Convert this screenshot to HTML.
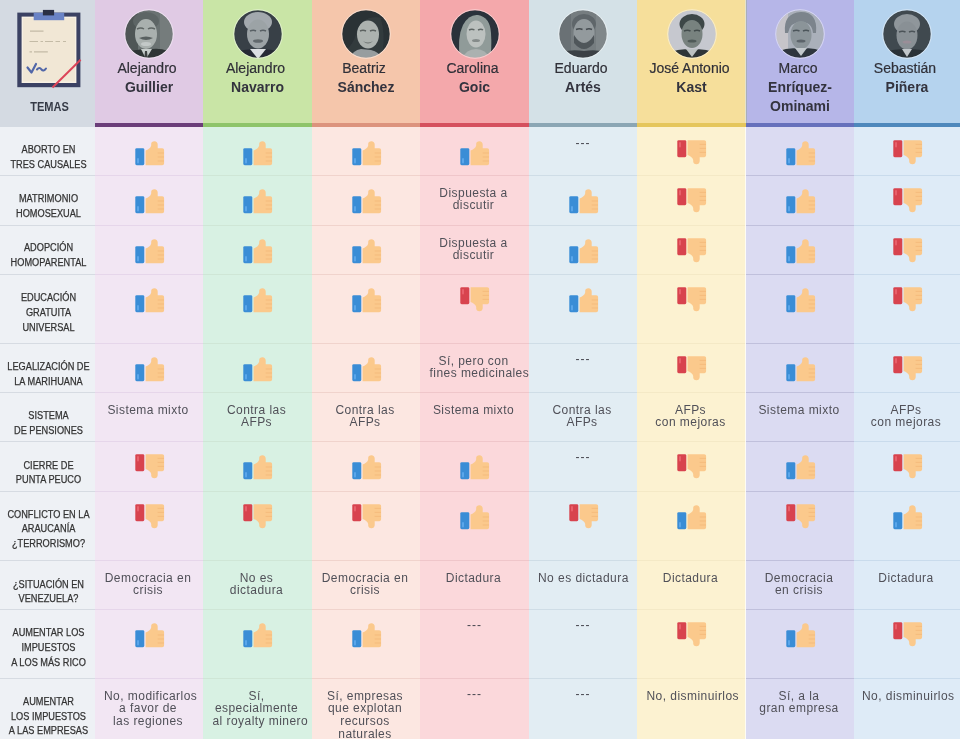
<!DOCTYPE html>
<html lang="es"><head><meta charset="utf-8"><title>Candidatos</title>
<style>
html,body{margin:0;padding:0}
body{width:960px;height:739px;overflow:hidden;position:relative;background:#eef1f5;font-family:"Liberation Sans",Arial,sans-serif;}
.a{position:absolute;display:block}
.t{position:absolute;white-space:nowrap;text-align:center}
.fn{font-size:14px;color:#303038;line-height:19.5px;-webkit-text-stroke:0.2px #303038}
.ln{font-size:14px;font-weight:bold;color:#33333e;line-height:19.5px}
.tp{font-size:10px;color:#333;line-height:14.6px;-webkit-text-stroke:0.25px #333;transform:scaleX(0.92)}
.bx{width:88px;text-align:center;font-size:12px;color:#505058;line-height:12.6px;letter-spacing:0.45px}
.bl{white-space:nowrap}
.dash{font-size:12px;color:#46464e;letter-spacing:1px}
</style></head><body>

<div class="a" style="left:0;top:0;width:95px;height:123px;background:#d4dae2"></div>
<div class="a" style="left:0;top:123px;width:95px;height:4px;background:#d4dae2"></div>
<div class="a" style="left:0;top:127px;width:95px;height:612px;background:#eef1f5"></div>
<div class="a" style="left:95px;top:0;width:108px;height:123px;background:#e0cae4"></div>
<div class="a" style="left:95px;top:123px;width:108px;height:4px;background:#6b3d79"></div>
<div class="a" style="left:95px;top:127px;width:108px;height:612px;background:#f2e6f3"></div>
<div class="a" style="left:203px;top:0;width:109px;height:123px;background:#c9e5a6"></div>
<div class="a" style="left:203px;top:123px;width:109px;height:4px;background:#8ec46a"></div>
<div class="a" style="left:203px;top:127px;width:109px;height:612px;background:#d8f1e3"></div>
<div class="a" style="left:312px;top:0;width:108px;height:123px;background:#f5c6ab"></div>
<div class="a" style="left:312px;top:123px;width:108px;height:4px;background:#dc937d"></div>
<div class="a" style="left:312px;top:127px;width:108px;height:612px;background:#fce7e1"></div>
<div class="a" style="left:420px;top:0;width:109px;height:123px;background:#f4a8ab"></div>
<div class="a" style="left:420px;top:123px;width:109px;height:4px;background:#d5505e"></div>
<div class="a" style="left:420px;top:127px;width:109px;height:612px;background:#fbd8db"></div>
<div class="a" style="left:529px;top:0;width:108px;height:123px;background:#d4e1e7"></div>
<div class="a" style="left:529px;top:123px;width:108px;height:4px;background:#8ba6b4"></div>
<div class="a" style="left:529px;top:127px;width:108px;height:612px;background:#e2edf3"></div>
<div class="a" style="left:637px;top:0;width:109px;height:123px;background:#f6df9b"></div>
<div class="a" style="left:637px;top:123px;width:109px;height:4px;background:#e5c65c"></div>
<div class="a" style="left:637px;top:127px;width:109px;height:612px;background:#fcf2d1"></div>
<div class="a" style="left:746px;top:0;width:108px;height:123px;background:#b6b6e8"></div>
<div class="a" style="left:746px;top:123px;width:108px;height:4px;background:#6670bc"></div>
<div class="a" style="left:746px;top:127px;width:108px;height:612px;background:#dbdbf2"></div>
<div class="a" style="left:854px;top:0;width:106px;height:123px;background:#b5d3ee"></div>
<div class="a" style="left:854px;top:123px;width:106px;height:4px;background:#4e88bc"></div>
<div class="a" style="left:854px;top:127px;width:106px;height:612px;background:#deebf7"></div>
<div class="a" style="left:0;top:175px;width:95px;height:1px;background:#d6dbe2"></div>
<div class="a" style="left:95px;top:175px;width:108px;height:1px;background:#e6d6ea"></div>
<div class="a" style="left:203px;top:175px;width:109px;height:1px;background:#cfe6d6"></div>
<div class="a" style="left:312px;top:175px;width:108px;height:1px;background:#f0d3cc"></div>
<div class="a" style="left:420px;top:175px;width:109px;height:1px;background:#efc6ca"></div>
<div class="a" style="left:529px;top:175px;width:108px;height:1px;background:#cfdde6"></div>
<div class="a" style="left:637px;top:175px;width:109px;height:1px;background:#f4e9c6"></div>
<div class="a" style="left:746px;top:175px;width:108px;height:1px;background:#c0c0dc"></div>
<div class="a" style="left:854px;top:175px;width:106px;height:1px;background:#c9dbec"></div>
<div class="a" style="left:0;top:225px;width:95px;height:1px;background:#d6dbe2"></div>
<div class="a" style="left:95px;top:225px;width:108px;height:1px;background:#e6d6ea"></div>
<div class="a" style="left:203px;top:225px;width:109px;height:1px;background:#cfe6d6"></div>
<div class="a" style="left:312px;top:225px;width:108px;height:1px;background:#f0d3cc"></div>
<div class="a" style="left:420px;top:225px;width:109px;height:1px;background:#efc6ca"></div>
<div class="a" style="left:529px;top:225px;width:108px;height:1px;background:#cfdde6"></div>
<div class="a" style="left:637px;top:225px;width:109px;height:1px;background:#f4e9c6"></div>
<div class="a" style="left:746px;top:225px;width:108px;height:1px;background:#c0c0dc"></div>
<div class="a" style="left:854px;top:225px;width:106px;height:1px;background:#c9dbec"></div>
<div class="a" style="left:0;top:274px;width:95px;height:1px;background:#d6dbe2"></div>
<div class="a" style="left:95px;top:274px;width:108px;height:1px;background:#e6d6ea"></div>
<div class="a" style="left:203px;top:274px;width:109px;height:1px;background:#cfe6d6"></div>
<div class="a" style="left:312px;top:274px;width:108px;height:1px;background:#f0d3cc"></div>
<div class="a" style="left:420px;top:274px;width:109px;height:1px;background:#efc6ca"></div>
<div class="a" style="left:529px;top:274px;width:108px;height:1px;background:#cfdde6"></div>
<div class="a" style="left:637px;top:274px;width:109px;height:1px;background:#f4e9c6"></div>
<div class="a" style="left:746px;top:274px;width:108px;height:1px;background:#c0c0dc"></div>
<div class="a" style="left:854px;top:274px;width:106px;height:1px;background:#c9dbec"></div>
<div class="a" style="left:0;top:343px;width:95px;height:1px;background:#d6dbe2"></div>
<div class="a" style="left:95px;top:343px;width:108px;height:1px;background:#e6d6ea"></div>
<div class="a" style="left:203px;top:343px;width:109px;height:1px;background:#cfe6d6"></div>
<div class="a" style="left:312px;top:343px;width:108px;height:1px;background:#f0d3cc"></div>
<div class="a" style="left:420px;top:343px;width:109px;height:1px;background:#efc6ca"></div>
<div class="a" style="left:529px;top:343px;width:108px;height:1px;background:#cfdde6"></div>
<div class="a" style="left:637px;top:343px;width:109px;height:1px;background:#f4e9c6"></div>
<div class="a" style="left:746px;top:343px;width:108px;height:1px;background:#c0c0dc"></div>
<div class="a" style="left:854px;top:343px;width:106px;height:1px;background:#c9dbec"></div>
<div class="a" style="left:0;top:392px;width:95px;height:1px;background:#d6dbe2"></div>
<div class="a" style="left:95px;top:392px;width:108px;height:1px;background:#e6d6ea"></div>
<div class="a" style="left:203px;top:392px;width:109px;height:1px;background:#cfe6d6"></div>
<div class="a" style="left:312px;top:392px;width:108px;height:1px;background:#f0d3cc"></div>
<div class="a" style="left:420px;top:392px;width:109px;height:1px;background:#efc6ca"></div>
<div class="a" style="left:529px;top:392px;width:108px;height:1px;background:#cfdde6"></div>
<div class="a" style="left:637px;top:392px;width:109px;height:1px;background:#f4e9c6"></div>
<div class="a" style="left:746px;top:392px;width:108px;height:1px;background:#c0c0dc"></div>
<div class="a" style="left:854px;top:392px;width:106px;height:1px;background:#c9dbec"></div>
<div class="a" style="left:0;top:441px;width:95px;height:1px;background:#d6dbe2"></div>
<div class="a" style="left:95px;top:441px;width:108px;height:1px;background:#e6d6ea"></div>
<div class="a" style="left:203px;top:441px;width:109px;height:1px;background:#cfe6d6"></div>
<div class="a" style="left:312px;top:441px;width:108px;height:1px;background:#f0d3cc"></div>
<div class="a" style="left:420px;top:441px;width:109px;height:1px;background:#efc6ca"></div>
<div class="a" style="left:529px;top:441px;width:108px;height:1px;background:#cfdde6"></div>
<div class="a" style="left:637px;top:441px;width:109px;height:1px;background:#f4e9c6"></div>
<div class="a" style="left:746px;top:441px;width:108px;height:1px;background:#c0c0dc"></div>
<div class="a" style="left:854px;top:441px;width:106px;height:1px;background:#c9dbec"></div>
<div class="a" style="left:0;top:491px;width:95px;height:1px;background:#d6dbe2"></div>
<div class="a" style="left:95px;top:491px;width:108px;height:1px;background:#e6d6ea"></div>
<div class="a" style="left:203px;top:491px;width:109px;height:1px;background:#cfe6d6"></div>
<div class="a" style="left:312px;top:491px;width:108px;height:1px;background:#f0d3cc"></div>
<div class="a" style="left:420px;top:491px;width:109px;height:1px;background:#efc6ca"></div>
<div class="a" style="left:529px;top:491px;width:108px;height:1px;background:#cfdde6"></div>
<div class="a" style="left:637px;top:491px;width:109px;height:1px;background:#f4e9c6"></div>
<div class="a" style="left:746px;top:491px;width:108px;height:1px;background:#c0c0dc"></div>
<div class="a" style="left:854px;top:491px;width:106px;height:1px;background:#c9dbec"></div>
<div class="a" style="left:0;top:560px;width:95px;height:1px;background:#d6dbe2"></div>
<div class="a" style="left:95px;top:560px;width:108px;height:1px;background:#e6d6ea"></div>
<div class="a" style="left:203px;top:560px;width:109px;height:1px;background:#cfe6d6"></div>
<div class="a" style="left:312px;top:560px;width:108px;height:1px;background:#f0d3cc"></div>
<div class="a" style="left:420px;top:560px;width:109px;height:1px;background:#efc6ca"></div>
<div class="a" style="left:529px;top:560px;width:108px;height:1px;background:#cfdde6"></div>
<div class="a" style="left:637px;top:560px;width:109px;height:1px;background:#f4e9c6"></div>
<div class="a" style="left:746px;top:560px;width:108px;height:1px;background:#c0c0dc"></div>
<div class="a" style="left:854px;top:560px;width:106px;height:1px;background:#c9dbec"></div>
<div class="a" style="left:0;top:609px;width:95px;height:1px;background:#d6dbe2"></div>
<div class="a" style="left:95px;top:609px;width:108px;height:1px;background:#e6d6ea"></div>
<div class="a" style="left:203px;top:609px;width:109px;height:1px;background:#cfe6d6"></div>
<div class="a" style="left:312px;top:609px;width:108px;height:1px;background:#f0d3cc"></div>
<div class="a" style="left:420px;top:609px;width:109px;height:1px;background:#efc6ca"></div>
<div class="a" style="left:529px;top:609px;width:108px;height:1px;background:#cfdde6"></div>
<div class="a" style="left:637px;top:609px;width:109px;height:1px;background:#f4e9c6"></div>
<div class="a" style="left:746px;top:609px;width:108px;height:1px;background:#c0c0dc"></div>
<div class="a" style="left:854px;top:609px;width:106px;height:1px;background:#c9dbec"></div>
<div class="a" style="left:0;top:678px;width:95px;height:1px;background:#d6dbe2"></div>
<div class="a" style="left:95px;top:678px;width:108px;height:1px;background:#e6d6ea"></div>
<div class="a" style="left:203px;top:678px;width:109px;height:1px;background:#cfe6d6"></div>
<div class="a" style="left:312px;top:678px;width:108px;height:1px;background:#f0d3cc"></div>
<div class="a" style="left:420px;top:678px;width:109px;height:1px;background:#efc6ca"></div>
<div class="a" style="left:529px;top:678px;width:108px;height:1px;background:#cfdde6"></div>
<div class="a" style="left:637px;top:678px;width:109px;height:1px;background:#f4e9c6"></div>
<div class="a" style="left:746px;top:678px;width:108px;height:1px;background:#c0c0dc"></div>
<div class="a" style="left:854px;top:678px;width:106px;height:1px;background:#c9dbec"></div>
<div class="a" style="left:745px;top:127px;width:1px;height:612px;background:rgba(255,255,255,0.75)"></div>
<div class="a" style="left:745px;top:0;width:1px;height:123px;background:#e6e3cc"></div>
<div class="a" style="left:746px;top:0;width:1px;height:123px;background:#a9afbb"></div>
<div class="t tp" style="left:0.5px;width:95px;top:142.9px">ABORTO EN</div>
<div class="t tp" style="left:0.5px;width:95px;top:157.6px">TRES CAUSALES</div>
<div class="t tp" style="left:0.5px;width:95px;top:192.4px">MATRIMONIO</div>
<div class="t tp" style="left:0.5px;width:95px;top:207.1px">HOMOSEXUAL</div>
<div class="t tp" style="left:0.5px;width:95px;top:241.4px">ADOPCIÓN</div>
<div class="t tp" style="left:0.5px;width:95px;top:256.1px">HOMOPARENTAL</div>
<div class="t tp" style="left:0.5px;width:95px;top:291.2px">EDUCACIÓN</div>
<div class="t tp" style="left:0.5px;width:95px;top:305.9px">GRATUITA</div>
<div class="t tp" style="left:0.5px;width:95px;top:320.6px">UNIVERSAL</div>
<div class="t tp" style="left:0.5px;width:95px;top:360.1px">LEGALIZACIÓN DE</div>
<div class="t tp" style="left:0.5px;width:95px;top:374.8px">LA MARIHUANA</div>
<div class="t tp" style="left:0.5px;width:95px;top:409.4px">SISTEMA</div>
<div class="t tp" style="left:0.5px;width:95px;top:424.1px">DE PENSIONES</div>
<div class="t tp" style="left:0.5px;width:95px;top:458.7px">CIERRE DE</div>
<div class="t tp" style="left:0.5px;width:95px;top:473.4px">PUNTA PEUCO</div>
<div class="t tp" style="left:0.5px;width:95px;top:507.7px">CONFLICTO EN LA</div>
<div class="t tp" style="left:0.5px;width:95px;top:522.4px">ARAUCANÍA</div>
<div class="t tp" style="left:0.5px;width:95px;top:537.1px">¿TERRORISMO?</div>
<div class="t tp" style="left:0.5px;width:95px;top:577.5px">¿SITUACIÓN EN</div>
<div class="t tp" style="left:0.5px;width:95px;top:592.2px">VENEZUELA?</div>
<div class="t tp" style="left:0.5px;width:95px;top:626.3px">AUMENTAR LOS</div>
<div class="t tp" style="left:0.5px;width:95px;top:641.0px">IMPUESTOS</div>
<div class="t tp" style="left:0.5px;width:95px;top:655.7px">A LOS MÁS RICO</div>
<div class="t tp" style="left:0.5px;width:95px;top:694.9px">AUMENTAR</div>
<div class="t tp" style="left:0.5px;width:95px;top:709.6px">LOS IMPUESTOS</div>
<div class="t tp" style="left:0.5px;width:95px;top:724.3px">A LAS EMPRESAS</div>
<svg class="a" style="left:134.5px;top:140.4px" width="30" height="26" viewBox="0 0 30 26"><rect x="0.3" y="8.2" width="9" height="17" rx="1.4" fill="#3a8dd6"/><rect x="2" y="18" width="2" height="5.5" rx="1" fill="#5aa6ea"/><path d="M10.6,25.2 L10.6,10.5 C13,9.5 15.8,8 16.2,5.5 L16.2,3.8 C16.2,2.1 17.4,1.2 19.4,1.2 C21.4,1.2 22.7,2.5 22.7,4.5 L22.7,8.2 L27.2,8.2 C28.4,8.2 29.1,9 29.1,10.3 L29.1,23.3 C29.1,24.5 28.3,25.2 27.2,25.2 Z" fill="#fbc98c"/><path d="M22.7,13 H29 M22.7,17 H29 M22.7,21 H29" stroke="#f2b676" stroke-width="0.7" fill="none"/></svg>
<svg class="a" style="left:243.0px;top:140.4px" width="30" height="26" viewBox="0 0 30 26"><rect x="0.3" y="8.2" width="9" height="17" rx="1.4" fill="#3a8dd6"/><rect x="2" y="18" width="2" height="5.5" rx="1" fill="#5aa6ea"/><path d="M10.6,25.2 L10.6,10.5 C13,9.5 15.8,8 16.2,5.5 L16.2,3.8 C16.2,2.1 17.4,1.2 19.4,1.2 C21.4,1.2 22.7,2.5 22.7,4.5 L22.7,8.2 L27.2,8.2 C28.4,8.2 29.1,9 29.1,10.3 L29.1,23.3 C29.1,24.5 28.3,25.2 27.2,25.2 Z" fill="#fbc98c"/><path d="M22.7,13 H29 M22.7,17 H29 M22.7,21 H29" stroke="#f2b676" stroke-width="0.7" fill="none"/></svg>
<svg class="a" style="left:351.5px;top:140.4px" width="30" height="26" viewBox="0 0 30 26"><rect x="0.3" y="8.2" width="9" height="17" rx="1.4" fill="#3a8dd6"/><rect x="2" y="18" width="2" height="5.5" rx="1" fill="#5aa6ea"/><path d="M10.6,25.2 L10.6,10.5 C13,9.5 15.8,8 16.2,5.5 L16.2,3.8 C16.2,2.1 17.4,1.2 19.4,1.2 C21.4,1.2 22.7,2.5 22.7,4.5 L22.7,8.2 L27.2,8.2 C28.4,8.2 29.1,9 29.1,10.3 L29.1,23.3 C29.1,24.5 28.3,25.2 27.2,25.2 Z" fill="#fbc98c"/><path d="M22.7,13 H29 M22.7,17 H29 M22.7,21 H29" stroke="#f2b676" stroke-width="0.7" fill="none"/></svg>
<svg class="a" style="left:460.0px;top:140.4px" width="30" height="26" viewBox="0 0 30 26"><rect x="0.3" y="8.2" width="9" height="17" rx="1.4" fill="#3a8dd6"/><rect x="2" y="18" width="2" height="5.5" rx="1" fill="#5aa6ea"/><path d="M10.6,25.2 L10.6,10.5 C13,9.5 15.8,8 16.2,5.5 L16.2,3.8 C16.2,2.1 17.4,1.2 19.4,1.2 C21.4,1.2 22.7,2.5 22.7,4.5 L22.7,8.2 L27.2,8.2 C28.4,8.2 29.1,9 29.1,10.3 L29.1,23.3 C29.1,24.5 28.3,25.2 27.2,25.2 Z" fill="#fbc98c"/><path d="M22.7,13 H29 M22.7,17 H29 M22.7,21 H29" stroke="#f2b676" stroke-width="0.7" fill="none"/></svg>
<div class="t dash" style="left:529px;width:108px;top:136.2px">---</div>
<svg class="a" style="left:677.0px;top:139.9px" width="30" height="26" viewBox="0 0 30 26"><g transform="translate(0,25.4) scale(1,-1)"><rect x="0.3" y="8.2" width="9" height="17" rx="1.4" fill="#d8434e"/><rect x="2" y="18" width="2" height="5.5" rx="1" fill="#e8606b"/><path d="M10.6,25.2 L10.6,10.5 C13,9.5 15.8,8 16.2,5.5 L16.2,3.8 C16.2,2.1 17.4,1.2 19.4,1.2 C21.4,1.2 22.7,2.5 22.7,4.5 L22.7,8.2 L27.2,8.2 C28.4,8.2 29.1,9 29.1,10.3 L29.1,23.3 C29.1,24.5 28.3,25.2 27.2,25.2 Z" fill="#fbc98c"/><path d="M22.7,13 H29 M22.7,17 H29 M22.7,21 H29" stroke="#f2b676" stroke-width="0.7" fill="none"/></g></svg>
<svg class="a" style="left:785.5px;top:140.4px" width="30" height="26" viewBox="0 0 30 26"><rect x="0.3" y="8.2" width="9" height="17" rx="1.4" fill="#3a8dd6"/><rect x="2" y="18" width="2" height="5.5" rx="1" fill="#5aa6ea"/><path d="M10.6,25.2 L10.6,10.5 C13,9.5 15.8,8 16.2,5.5 L16.2,3.8 C16.2,2.1 17.4,1.2 19.4,1.2 C21.4,1.2 22.7,2.5 22.7,4.5 L22.7,8.2 L27.2,8.2 C28.4,8.2 29.1,9 29.1,10.3 L29.1,23.3 C29.1,24.5 28.3,25.2 27.2,25.2 Z" fill="#fbc98c"/><path d="M22.7,13 H29 M22.7,17 H29 M22.7,21 H29" stroke="#f2b676" stroke-width="0.7" fill="none"/></svg>
<svg class="a" style="left:892.5px;top:139.9px" width="30" height="26" viewBox="0 0 30 26"><g transform="translate(0,25.4) scale(1,-1)"><rect x="0.3" y="8.2" width="9" height="17" rx="1.4" fill="#d8434e"/><rect x="2" y="18" width="2" height="5.5" rx="1" fill="#e8606b"/><path d="M10.6,25.2 L10.6,10.5 C13,9.5 15.8,8 16.2,5.5 L16.2,3.8 C16.2,2.1 17.4,1.2 19.4,1.2 C21.4,1.2 22.7,2.5 22.7,4.5 L22.7,8.2 L27.2,8.2 C28.4,8.2 29.1,9 29.1,10.3 L29.1,23.3 C29.1,24.5 28.3,25.2 27.2,25.2 Z" fill="#fbc98c"/><path d="M22.7,13 H29 M22.7,17 H29 M22.7,21 H29" stroke="#f2b676" stroke-width="0.7" fill="none"/></g></svg>
<svg class="a" style="left:134.5px;top:188.4px" width="30" height="26" viewBox="0 0 30 26"><rect x="0.3" y="8.2" width="9" height="17" rx="1.4" fill="#3a8dd6"/><rect x="2" y="18" width="2" height="5.5" rx="1" fill="#5aa6ea"/><path d="M10.6,25.2 L10.6,10.5 C13,9.5 15.8,8 16.2,5.5 L16.2,3.8 C16.2,2.1 17.4,1.2 19.4,1.2 C21.4,1.2 22.7,2.5 22.7,4.5 L22.7,8.2 L27.2,8.2 C28.4,8.2 29.1,9 29.1,10.3 L29.1,23.3 C29.1,24.5 28.3,25.2 27.2,25.2 Z" fill="#fbc98c"/><path d="M22.7,13 H29 M22.7,17 H29 M22.7,21 H29" stroke="#f2b676" stroke-width="0.7" fill="none"/></svg>
<svg class="a" style="left:243.0px;top:188.4px" width="30" height="26" viewBox="0 0 30 26"><rect x="0.3" y="8.2" width="9" height="17" rx="1.4" fill="#3a8dd6"/><rect x="2" y="18" width="2" height="5.5" rx="1" fill="#5aa6ea"/><path d="M10.6,25.2 L10.6,10.5 C13,9.5 15.8,8 16.2,5.5 L16.2,3.8 C16.2,2.1 17.4,1.2 19.4,1.2 C21.4,1.2 22.7,2.5 22.7,4.5 L22.7,8.2 L27.2,8.2 C28.4,8.2 29.1,9 29.1,10.3 L29.1,23.3 C29.1,24.5 28.3,25.2 27.2,25.2 Z" fill="#fbc98c"/><path d="M22.7,13 H29 M22.7,17 H29 M22.7,21 H29" stroke="#f2b676" stroke-width="0.7" fill="none"/></svg>
<svg class="a" style="left:351.5px;top:188.4px" width="30" height="26" viewBox="0 0 30 26"><rect x="0.3" y="8.2" width="9" height="17" rx="1.4" fill="#3a8dd6"/><rect x="2" y="18" width="2" height="5.5" rx="1" fill="#5aa6ea"/><path d="M10.6,25.2 L10.6,10.5 C13,9.5 15.8,8 16.2,5.5 L16.2,3.8 C16.2,2.1 17.4,1.2 19.4,1.2 C21.4,1.2 22.7,2.5 22.7,4.5 L22.7,8.2 L27.2,8.2 C28.4,8.2 29.1,9 29.1,10.3 L29.1,23.3 C29.1,24.5 28.3,25.2 27.2,25.2 Z" fill="#fbc98c"/><path d="M22.7,13 H29 M22.7,17 H29 M22.7,21 H29" stroke="#f2b676" stroke-width="0.7" fill="none"/></svg>
<div class="a" style="left:420px;width:109px;top:186.8px;height:60px;overflow:hidden"><div class="bx" style="margin-left:9.5px"><div class="bl">Dispuesta a</div><div class="bl">discutir</div></div></div>
<svg class="a" style="left:568.5px;top:188.4px" width="30" height="26" viewBox="0 0 30 26"><rect x="0.3" y="8.2" width="9" height="17" rx="1.4" fill="#3a8dd6"/><rect x="2" y="18" width="2" height="5.5" rx="1" fill="#5aa6ea"/><path d="M10.6,25.2 L10.6,10.5 C13,9.5 15.8,8 16.2,5.5 L16.2,3.8 C16.2,2.1 17.4,1.2 19.4,1.2 C21.4,1.2 22.7,2.5 22.7,4.5 L22.7,8.2 L27.2,8.2 C28.4,8.2 29.1,9 29.1,10.3 L29.1,23.3 C29.1,24.5 28.3,25.2 27.2,25.2 Z" fill="#fbc98c"/><path d="M22.7,13 H29 M22.7,17 H29 M22.7,21 H29" stroke="#f2b676" stroke-width="0.7" fill="none"/></svg>
<svg class="a" style="left:677.0px;top:187.9px" width="30" height="26" viewBox="0 0 30 26"><g transform="translate(0,25.4) scale(1,-1)"><rect x="0.3" y="8.2" width="9" height="17" rx="1.4" fill="#d8434e"/><rect x="2" y="18" width="2" height="5.5" rx="1" fill="#e8606b"/><path d="M10.6,25.2 L10.6,10.5 C13,9.5 15.8,8 16.2,5.5 L16.2,3.8 C16.2,2.1 17.4,1.2 19.4,1.2 C21.4,1.2 22.7,2.5 22.7,4.5 L22.7,8.2 L27.2,8.2 C28.4,8.2 29.1,9 29.1,10.3 L29.1,23.3 C29.1,24.5 28.3,25.2 27.2,25.2 Z" fill="#fbc98c"/><path d="M22.7,13 H29 M22.7,17 H29 M22.7,21 H29" stroke="#f2b676" stroke-width="0.7" fill="none"/></g></svg>
<svg class="a" style="left:785.5px;top:188.4px" width="30" height="26" viewBox="0 0 30 26"><rect x="0.3" y="8.2" width="9" height="17" rx="1.4" fill="#3a8dd6"/><rect x="2" y="18" width="2" height="5.5" rx="1" fill="#5aa6ea"/><path d="M10.6,25.2 L10.6,10.5 C13,9.5 15.8,8 16.2,5.5 L16.2,3.8 C16.2,2.1 17.4,1.2 19.4,1.2 C21.4,1.2 22.7,2.5 22.7,4.5 L22.7,8.2 L27.2,8.2 C28.4,8.2 29.1,9 29.1,10.3 L29.1,23.3 C29.1,24.5 28.3,25.2 27.2,25.2 Z" fill="#fbc98c"/><path d="M22.7,13 H29 M22.7,17 H29 M22.7,21 H29" stroke="#f2b676" stroke-width="0.7" fill="none"/></svg>
<svg class="a" style="left:892.5px;top:187.9px" width="30" height="26" viewBox="0 0 30 26"><g transform="translate(0,25.4) scale(1,-1)"><rect x="0.3" y="8.2" width="9" height="17" rx="1.4" fill="#d8434e"/><rect x="2" y="18" width="2" height="5.5" rx="1" fill="#e8606b"/><path d="M10.6,25.2 L10.6,10.5 C13,9.5 15.8,8 16.2,5.5 L16.2,3.8 C16.2,2.1 17.4,1.2 19.4,1.2 C21.4,1.2 22.7,2.5 22.7,4.5 L22.7,8.2 L27.2,8.2 C28.4,8.2 29.1,9 29.1,10.3 L29.1,23.3 C29.1,24.5 28.3,25.2 27.2,25.2 Z" fill="#fbc98c"/><path d="M22.7,13 H29 M22.7,17 H29 M22.7,21 H29" stroke="#f2b676" stroke-width="0.7" fill="none"/></g></svg>
<svg class="a" style="left:134.5px;top:238.4px" width="30" height="26" viewBox="0 0 30 26"><rect x="0.3" y="8.2" width="9" height="17" rx="1.4" fill="#3a8dd6"/><rect x="2" y="18" width="2" height="5.5" rx="1" fill="#5aa6ea"/><path d="M10.6,25.2 L10.6,10.5 C13,9.5 15.8,8 16.2,5.5 L16.2,3.8 C16.2,2.1 17.4,1.2 19.4,1.2 C21.4,1.2 22.7,2.5 22.7,4.5 L22.7,8.2 L27.2,8.2 C28.4,8.2 29.1,9 29.1,10.3 L29.1,23.3 C29.1,24.5 28.3,25.2 27.2,25.2 Z" fill="#fbc98c"/><path d="M22.7,13 H29 M22.7,17 H29 M22.7,21 H29" stroke="#f2b676" stroke-width="0.7" fill="none"/></svg>
<svg class="a" style="left:243.0px;top:238.4px" width="30" height="26" viewBox="0 0 30 26"><rect x="0.3" y="8.2" width="9" height="17" rx="1.4" fill="#3a8dd6"/><rect x="2" y="18" width="2" height="5.5" rx="1" fill="#5aa6ea"/><path d="M10.6,25.2 L10.6,10.5 C13,9.5 15.8,8 16.2,5.5 L16.2,3.8 C16.2,2.1 17.4,1.2 19.4,1.2 C21.4,1.2 22.7,2.5 22.7,4.5 L22.7,8.2 L27.2,8.2 C28.4,8.2 29.1,9 29.1,10.3 L29.1,23.3 C29.1,24.5 28.3,25.2 27.2,25.2 Z" fill="#fbc98c"/><path d="M22.7,13 H29 M22.7,17 H29 M22.7,21 H29" stroke="#f2b676" stroke-width="0.7" fill="none"/></svg>
<svg class="a" style="left:351.5px;top:238.4px" width="30" height="26" viewBox="0 0 30 26"><rect x="0.3" y="8.2" width="9" height="17" rx="1.4" fill="#3a8dd6"/><rect x="2" y="18" width="2" height="5.5" rx="1" fill="#5aa6ea"/><path d="M10.6,25.2 L10.6,10.5 C13,9.5 15.8,8 16.2,5.5 L16.2,3.8 C16.2,2.1 17.4,1.2 19.4,1.2 C21.4,1.2 22.7,2.5 22.7,4.5 L22.7,8.2 L27.2,8.2 C28.4,8.2 29.1,9 29.1,10.3 L29.1,23.3 C29.1,24.5 28.3,25.2 27.2,25.2 Z" fill="#fbc98c"/><path d="M22.7,13 H29 M22.7,17 H29 M22.7,21 H29" stroke="#f2b676" stroke-width="0.7" fill="none"/></svg>
<div class="a" style="left:420px;width:109px;top:236.8px;height:60px;overflow:hidden"><div class="bx" style="margin-left:9.5px"><div class="bl">Dispuesta a</div><div class="bl">discutir</div></div></div>
<svg class="a" style="left:568.5px;top:238.4px" width="30" height="26" viewBox="0 0 30 26"><rect x="0.3" y="8.2" width="9" height="17" rx="1.4" fill="#3a8dd6"/><rect x="2" y="18" width="2" height="5.5" rx="1" fill="#5aa6ea"/><path d="M10.6,25.2 L10.6,10.5 C13,9.5 15.8,8 16.2,5.5 L16.2,3.8 C16.2,2.1 17.4,1.2 19.4,1.2 C21.4,1.2 22.7,2.5 22.7,4.5 L22.7,8.2 L27.2,8.2 C28.4,8.2 29.1,9 29.1,10.3 L29.1,23.3 C29.1,24.5 28.3,25.2 27.2,25.2 Z" fill="#fbc98c"/><path d="M22.7,13 H29 M22.7,17 H29 M22.7,21 H29" stroke="#f2b676" stroke-width="0.7" fill="none"/></svg>
<svg class="a" style="left:677.0px;top:237.9px" width="30" height="26" viewBox="0 0 30 26"><g transform="translate(0,25.4) scale(1,-1)"><rect x="0.3" y="8.2" width="9" height="17" rx="1.4" fill="#d8434e"/><rect x="2" y="18" width="2" height="5.5" rx="1" fill="#e8606b"/><path d="M10.6,25.2 L10.6,10.5 C13,9.5 15.8,8 16.2,5.5 L16.2,3.8 C16.2,2.1 17.4,1.2 19.4,1.2 C21.4,1.2 22.7,2.5 22.7,4.5 L22.7,8.2 L27.2,8.2 C28.4,8.2 29.1,9 29.1,10.3 L29.1,23.3 C29.1,24.5 28.3,25.2 27.2,25.2 Z" fill="#fbc98c"/><path d="M22.7,13 H29 M22.7,17 H29 M22.7,21 H29" stroke="#f2b676" stroke-width="0.7" fill="none"/></g></svg>
<svg class="a" style="left:785.5px;top:238.4px" width="30" height="26" viewBox="0 0 30 26"><rect x="0.3" y="8.2" width="9" height="17" rx="1.4" fill="#3a8dd6"/><rect x="2" y="18" width="2" height="5.5" rx="1" fill="#5aa6ea"/><path d="M10.6,25.2 L10.6,10.5 C13,9.5 15.8,8 16.2,5.5 L16.2,3.8 C16.2,2.1 17.4,1.2 19.4,1.2 C21.4,1.2 22.7,2.5 22.7,4.5 L22.7,8.2 L27.2,8.2 C28.4,8.2 29.1,9 29.1,10.3 L29.1,23.3 C29.1,24.5 28.3,25.2 27.2,25.2 Z" fill="#fbc98c"/><path d="M22.7,13 H29 M22.7,17 H29 M22.7,21 H29" stroke="#f2b676" stroke-width="0.7" fill="none"/></svg>
<svg class="a" style="left:892.5px;top:237.9px" width="30" height="26" viewBox="0 0 30 26"><g transform="translate(0,25.4) scale(1,-1)"><rect x="0.3" y="8.2" width="9" height="17" rx="1.4" fill="#d8434e"/><rect x="2" y="18" width="2" height="5.5" rx="1" fill="#e8606b"/><path d="M10.6,25.2 L10.6,10.5 C13,9.5 15.8,8 16.2,5.5 L16.2,3.8 C16.2,2.1 17.4,1.2 19.4,1.2 C21.4,1.2 22.7,2.5 22.7,4.5 L22.7,8.2 L27.2,8.2 C28.4,8.2 29.1,9 29.1,10.3 L29.1,23.3 C29.1,24.5 28.3,25.2 27.2,25.2 Z" fill="#fbc98c"/><path d="M22.7,13 H29 M22.7,17 H29 M22.7,21 H29" stroke="#f2b676" stroke-width="0.7" fill="none"/></g></svg>
<svg class="a" style="left:134.5px;top:287.4px" width="30" height="26" viewBox="0 0 30 26"><rect x="0.3" y="8.2" width="9" height="17" rx="1.4" fill="#3a8dd6"/><rect x="2" y="18" width="2" height="5.5" rx="1" fill="#5aa6ea"/><path d="M10.6,25.2 L10.6,10.5 C13,9.5 15.8,8 16.2,5.5 L16.2,3.8 C16.2,2.1 17.4,1.2 19.4,1.2 C21.4,1.2 22.7,2.5 22.7,4.5 L22.7,8.2 L27.2,8.2 C28.4,8.2 29.1,9 29.1,10.3 L29.1,23.3 C29.1,24.5 28.3,25.2 27.2,25.2 Z" fill="#fbc98c"/><path d="M22.7,13 H29 M22.7,17 H29 M22.7,21 H29" stroke="#f2b676" stroke-width="0.7" fill="none"/></svg>
<svg class="a" style="left:243.0px;top:287.4px" width="30" height="26" viewBox="0 0 30 26"><rect x="0.3" y="8.2" width="9" height="17" rx="1.4" fill="#3a8dd6"/><rect x="2" y="18" width="2" height="5.5" rx="1" fill="#5aa6ea"/><path d="M10.6,25.2 L10.6,10.5 C13,9.5 15.8,8 16.2,5.5 L16.2,3.8 C16.2,2.1 17.4,1.2 19.4,1.2 C21.4,1.2 22.7,2.5 22.7,4.5 L22.7,8.2 L27.2,8.2 C28.4,8.2 29.1,9 29.1,10.3 L29.1,23.3 C29.1,24.5 28.3,25.2 27.2,25.2 Z" fill="#fbc98c"/><path d="M22.7,13 H29 M22.7,17 H29 M22.7,21 H29" stroke="#f2b676" stroke-width="0.7" fill="none"/></svg>
<svg class="a" style="left:351.5px;top:287.4px" width="30" height="26" viewBox="0 0 30 26"><rect x="0.3" y="8.2" width="9" height="17" rx="1.4" fill="#3a8dd6"/><rect x="2" y="18" width="2" height="5.5" rx="1" fill="#5aa6ea"/><path d="M10.6,25.2 L10.6,10.5 C13,9.5 15.8,8 16.2,5.5 L16.2,3.8 C16.2,2.1 17.4,1.2 19.4,1.2 C21.4,1.2 22.7,2.5 22.7,4.5 L22.7,8.2 L27.2,8.2 C28.4,8.2 29.1,9 29.1,10.3 L29.1,23.3 C29.1,24.5 28.3,25.2 27.2,25.2 Z" fill="#fbc98c"/><path d="M22.7,13 H29 M22.7,17 H29 M22.7,21 H29" stroke="#f2b676" stroke-width="0.7" fill="none"/></svg>
<svg class="a" style="left:460.0px;top:286.9px" width="30" height="26" viewBox="0 0 30 26"><g transform="translate(0,25.4) scale(1,-1)"><rect x="0.3" y="8.2" width="9" height="17" rx="1.4" fill="#d8434e"/><rect x="2" y="18" width="2" height="5.5" rx="1" fill="#e8606b"/><path d="M10.6,25.2 L10.6,10.5 C13,9.5 15.8,8 16.2,5.5 L16.2,3.8 C16.2,2.1 17.4,1.2 19.4,1.2 C21.4,1.2 22.7,2.5 22.7,4.5 L22.7,8.2 L27.2,8.2 C28.4,8.2 29.1,9 29.1,10.3 L29.1,23.3 C29.1,24.5 28.3,25.2 27.2,25.2 Z" fill="#fbc98c"/><path d="M22.7,13 H29 M22.7,17 H29 M22.7,21 H29" stroke="#f2b676" stroke-width="0.7" fill="none"/></g></svg>
<svg class="a" style="left:568.5px;top:287.4px" width="30" height="26" viewBox="0 0 30 26"><rect x="0.3" y="8.2" width="9" height="17" rx="1.4" fill="#3a8dd6"/><rect x="2" y="18" width="2" height="5.5" rx="1" fill="#5aa6ea"/><path d="M10.6,25.2 L10.6,10.5 C13,9.5 15.8,8 16.2,5.5 L16.2,3.8 C16.2,2.1 17.4,1.2 19.4,1.2 C21.4,1.2 22.7,2.5 22.7,4.5 L22.7,8.2 L27.2,8.2 C28.4,8.2 29.1,9 29.1,10.3 L29.1,23.3 C29.1,24.5 28.3,25.2 27.2,25.2 Z" fill="#fbc98c"/><path d="M22.7,13 H29 M22.7,17 H29 M22.7,21 H29" stroke="#f2b676" stroke-width="0.7" fill="none"/></svg>
<svg class="a" style="left:677.0px;top:286.9px" width="30" height="26" viewBox="0 0 30 26"><g transform="translate(0,25.4) scale(1,-1)"><rect x="0.3" y="8.2" width="9" height="17" rx="1.4" fill="#d8434e"/><rect x="2" y="18" width="2" height="5.5" rx="1" fill="#e8606b"/><path d="M10.6,25.2 L10.6,10.5 C13,9.5 15.8,8 16.2,5.5 L16.2,3.8 C16.2,2.1 17.4,1.2 19.4,1.2 C21.4,1.2 22.7,2.5 22.7,4.5 L22.7,8.2 L27.2,8.2 C28.4,8.2 29.1,9 29.1,10.3 L29.1,23.3 C29.1,24.5 28.3,25.2 27.2,25.2 Z" fill="#fbc98c"/><path d="M22.7,13 H29 M22.7,17 H29 M22.7,21 H29" stroke="#f2b676" stroke-width="0.7" fill="none"/></g></svg>
<svg class="a" style="left:785.5px;top:287.4px" width="30" height="26" viewBox="0 0 30 26"><rect x="0.3" y="8.2" width="9" height="17" rx="1.4" fill="#3a8dd6"/><rect x="2" y="18" width="2" height="5.5" rx="1" fill="#5aa6ea"/><path d="M10.6,25.2 L10.6,10.5 C13,9.5 15.8,8 16.2,5.5 L16.2,3.8 C16.2,2.1 17.4,1.2 19.4,1.2 C21.4,1.2 22.7,2.5 22.7,4.5 L22.7,8.2 L27.2,8.2 C28.4,8.2 29.1,9 29.1,10.3 L29.1,23.3 C29.1,24.5 28.3,25.2 27.2,25.2 Z" fill="#fbc98c"/><path d="M22.7,13 H29 M22.7,17 H29 M22.7,21 H29" stroke="#f2b676" stroke-width="0.7" fill="none"/></svg>
<svg class="a" style="left:892.5px;top:286.9px" width="30" height="26" viewBox="0 0 30 26"><g transform="translate(0,25.4) scale(1,-1)"><rect x="0.3" y="8.2" width="9" height="17" rx="1.4" fill="#d8434e"/><rect x="2" y="18" width="2" height="5.5" rx="1" fill="#e8606b"/><path d="M10.6,25.2 L10.6,10.5 C13,9.5 15.8,8 16.2,5.5 L16.2,3.8 C16.2,2.1 17.4,1.2 19.4,1.2 C21.4,1.2 22.7,2.5 22.7,4.5 L22.7,8.2 L27.2,8.2 C28.4,8.2 29.1,9 29.1,10.3 L29.1,23.3 C29.1,24.5 28.3,25.2 27.2,25.2 Z" fill="#fbc98c"/><path d="M22.7,13 H29 M22.7,17 H29 M22.7,21 H29" stroke="#f2b676" stroke-width="0.7" fill="none"/></g></svg>
<svg class="a" style="left:134.5px;top:356.4px" width="30" height="26" viewBox="0 0 30 26"><rect x="0.3" y="8.2" width="9" height="17" rx="1.4" fill="#3a8dd6"/><rect x="2" y="18" width="2" height="5.5" rx="1" fill="#5aa6ea"/><path d="M10.6,25.2 L10.6,10.5 C13,9.5 15.8,8 16.2,5.5 L16.2,3.8 C16.2,2.1 17.4,1.2 19.4,1.2 C21.4,1.2 22.7,2.5 22.7,4.5 L22.7,8.2 L27.2,8.2 C28.4,8.2 29.1,9 29.1,10.3 L29.1,23.3 C29.1,24.5 28.3,25.2 27.2,25.2 Z" fill="#fbc98c"/><path d="M22.7,13 H29 M22.7,17 H29 M22.7,21 H29" stroke="#f2b676" stroke-width="0.7" fill="none"/></svg>
<svg class="a" style="left:243.0px;top:356.4px" width="30" height="26" viewBox="0 0 30 26"><rect x="0.3" y="8.2" width="9" height="17" rx="1.4" fill="#3a8dd6"/><rect x="2" y="18" width="2" height="5.5" rx="1" fill="#5aa6ea"/><path d="M10.6,25.2 L10.6,10.5 C13,9.5 15.8,8 16.2,5.5 L16.2,3.8 C16.2,2.1 17.4,1.2 19.4,1.2 C21.4,1.2 22.7,2.5 22.7,4.5 L22.7,8.2 L27.2,8.2 C28.4,8.2 29.1,9 29.1,10.3 L29.1,23.3 C29.1,24.5 28.3,25.2 27.2,25.2 Z" fill="#fbc98c"/><path d="M22.7,13 H29 M22.7,17 H29 M22.7,21 H29" stroke="#f2b676" stroke-width="0.7" fill="none"/></svg>
<svg class="a" style="left:351.5px;top:356.4px" width="30" height="26" viewBox="0 0 30 26"><rect x="0.3" y="8.2" width="9" height="17" rx="1.4" fill="#3a8dd6"/><rect x="2" y="18" width="2" height="5.5" rx="1" fill="#5aa6ea"/><path d="M10.6,25.2 L10.6,10.5 C13,9.5 15.8,8 16.2,5.5 L16.2,3.8 C16.2,2.1 17.4,1.2 19.4,1.2 C21.4,1.2 22.7,2.5 22.7,4.5 L22.7,8.2 L27.2,8.2 C28.4,8.2 29.1,9 29.1,10.3 L29.1,23.3 C29.1,24.5 28.3,25.2 27.2,25.2 Z" fill="#fbc98c"/><path d="M22.7,13 H29 M22.7,17 H29 M22.7,21 H29" stroke="#f2b676" stroke-width="0.7" fill="none"/></svg>
<div class="a" style="left:420px;width:109px;top:354.8px;height:60px;overflow:hidden"><div class="bx" style="margin-left:9.5px"><div class="bl">Sí, pero con</div><div class="bl">fines medicinales</div></div></div>
<div class="t dash" style="left:529px;width:108px;top:352.2px">---</div>
<svg class="a" style="left:677.0px;top:355.9px" width="30" height="26" viewBox="0 0 30 26"><g transform="translate(0,25.4) scale(1,-1)"><rect x="0.3" y="8.2" width="9" height="17" rx="1.4" fill="#d8434e"/><rect x="2" y="18" width="2" height="5.5" rx="1" fill="#e8606b"/><path d="M10.6,25.2 L10.6,10.5 C13,9.5 15.8,8 16.2,5.5 L16.2,3.8 C16.2,2.1 17.4,1.2 19.4,1.2 C21.4,1.2 22.7,2.5 22.7,4.5 L22.7,8.2 L27.2,8.2 C28.4,8.2 29.1,9 29.1,10.3 L29.1,23.3 C29.1,24.5 28.3,25.2 27.2,25.2 Z" fill="#fbc98c"/><path d="M22.7,13 H29 M22.7,17 H29 M22.7,21 H29" stroke="#f2b676" stroke-width="0.7" fill="none"/></g></svg>
<svg class="a" style="left:785.5px;top:356.4px" width="30" height="26" viewBox="0 0 30 26"><rect x="0.3" y="8.2" width="9" height="17" rx="1.4" fill="#3a8dd6"/><rect x="2" y="18" width="2" height="5.5" rx="1" fill="#5aa6ea"/><path d="M10.6,25.2 L10.6,10.5 C13,9.5 15.8,8 16.2,5.5 L16.2,3.8 C16.2,2.1 17.4,1.2 19.4,1.2 C21.4,1.2 22.7,2.5 22.7,4.5 L22.7,8.2 L27.2,8.2 C28.4,8.2 29.1,9 29.1,10.3 L29.1,23.3 C29.1,24.5 28.3,25.2 27.2,25.2 Z" fill="#fbc98c"/><path d="M22.7,13 H29 M22.7,17 H29 M22.7,21 H29" stroke="#f2b676" stroke-width="0.7" fill="none"/></svg>
<svg class="a" style="left:892.5px;top:355.9px" width="30" height="26" viewBox="0 0 30 26"><g transform="translate(0,25.4) scale(1,-1)"><rect x="0.3" y="8.2" width="9" height="17" rx="1.4" fill="#d8434e"/><rect x="2" y="18" width="2" height="5.5" rx="1" fill="#e8606b"/><path d="M10.6,25.2 L10.6,10.5 C13,9.5 15.8,8 16.2,5.5 L16.2,3.8 C16.2,2.1 17.4,1.2 19.4,1.2 C21.4,1.2 22.7,2.5 22.7,4.5 L22.7,8.2 L27.2,8.2 C28.4,8.2 29.1,9 29.1,10.3 L29.1,23.3 C29.1,24.5 28.3,25.2 27.2,25.2 Z" fill="#fbc98c"/><path d="M22.7,13 H29 M22.7,17 H29 M22.7,21 H29" stroke="#f2b676" stroke-width="0.7" fill="none"/></g></svg>
<div class="a" style="left:95px;width:108px;top:403.8px;height:60px;overflow:hidden"><div class="bx" style="margin-left:9.0px"><div class="bl">Sistema mixto</div></div></div>
<div class="a" style="left:203px;width:109px;top:403.8px;height:60px;overflow:hidden"><div class="bx" style="margin-left:9.5px"><div class="bl">Contra las</div><div class="bl">AFPs</div></div></div>
<div class="a" style="left:312px;width:108px;top:403.8px;height:60px;overflow:hidden"><div class="bx" style="margin-left:9.0px"><div class="bl">Contra las</div><div class="bl">AFPs</div></div></div>
<div class="a" style="left:420px;width:109px;top:403.8px;height:60px;overflow:hidden"><div class="bx" style="margin-left:9.5px"><div class="bl">Sistema mixto</div></div></div>
<div class="a" style="left:529px;width:108px;top:403.8px;height:60px;overflow:hidden"><div class="bx" style="margin-left:9.0px"><div class="bl">Contra las</div><div class="bl">AFPs</div></div></div>
<div class="a" style="left:637px;width:109px;top:403.8px;height:60px;overflow:hidden"><div class="bx" style="margin-left:9.5px"><div class="bl">AFPs</div><div class="bl">con mejoras</div></div></div>
<div class="a" style="left:746px;width:108px;top:403.8px;height:60px;overflow:hidden"><div class="bx" style="margin-left:9.0px"><div class="bl">Sistema mixto</div></div></div>
<div class="a" style="left:854px;width:106px;top:403.8px;height:60px;overflow:hidden"><div class="bx" style="margin-left:8.0px"><div class="bl">AFPs</div><div class="bl">con mejoras</div></div></div>
<svg class="a" style="left:134.5px;top:453.9px" width="30" height="26" viewBox="0 0 30 26"><g transform="translate(0,25.4) scale(1,-1)"><rect x="0.3" y="8.2" width="9" height="17" rx="1.4" fill="#d8434e"/><rect x="2" y="18" width="2" height="5.5" rx="1" fill="#e8606b"/><path d="M10.6,25.2 L10.6,10.5 C13,9.5 15.8,8 16.2,5.5 L16.2,3.8 C16.2,2.1 17.4,1.2 19.4,1.2 C21.4,1.2 22.7,2.5 22.7,4.5 L22.7,8.2 L27.2,8.2 C28.4,8.2 29.1,9 29.1,10.3 L29.1,23.3 C29.1,24.5 28.3,25.2 27.2,25.2 Z" fill="#fbc98c"/><path d="M22.7,13 H29 M22.7,17 H29 M22.7,21 H29" stroke="#f2b676" stroke-width="0.7" fill="none"/></g></svg>
<svg class="a" style="left:243.0px;top:454.4px" width="30" height="26" viewBox="0 0 30 26"><rect x="0.3" y="8.2" width="9" height="17" rx="1.4" fill="#3a8dd6"/><rect x="2" y="18" width="2" height="5.5" rx="1" fill="#5aa6ea"/><path d="M10.6,25.2 L10.6,10.5 C13,9.5 15.8,8 16.2,5.5 L16.2,3.8 C16.2,2.1 17.4,1.2 19.4,1.2 C21.4,1.2 22.7,2.5 22.7,4.5 L22.7,8.2 L27.2,8.2 C28.4,8.2 29.1,9 29.1,10.3 L29.1,23.3 C29.1,24.5 28.3,25.2 27.2,25.2 Z" fill="#fbc98c"/><path d="M22.7,13 H29 M22.7,17 H29 M22.7,21 H29" stroke="#f2b676" stroke-width="0.7" fill="none"/></svg>
<svg class="a" style="left:351.5px;top:454.4px" width="30" height="26" viewBox="0 0 30 26"><rect x="0.3" y="8.2" width="9" height="17" rx="1.4" fill="#3a8dd6"/><rect x="2" y="18" width="2" height="5.5" rx="1" fill="#5aa6ea"/><path d="M10.6,25.2 L10.6,10.5 C13,9.5 15.8,8 16.2,5.5 L16.2,3.8 C16.2,2.1 17.4,1.2 19.4,1.2 C21.4,1.2 22.7,2.5 22.7,4.5 L22.7,8.2 L27.2,8.2 C28.4,8.2 29.1,9 29.1,10.3 L29.1,23.3 C29.1,24.5 28.3,25.2 27.2,25.2 Z" fill="#fbc98c"/><path d="M22.7,13 H29 M22.7,17 H29 M22.7,21 H29" stroke="#f2b676" stroke-width="0.7" fill="none"/></svg>
<svg class="a" style="left:460.0px;top:454.4px" width="30" height="26" viewBox="0 0 30 26"><rect x="0.3" y="8.2" width="9" height="17" rx="1.4" fill="#3a8dd6"/><rect x="2" y="18" width="2" height="5.5" rx="1" fill="#5aa6ea"/><path d="M10.6,25.2 L10.6,10.5 C13,9.5 15.8,8 16.2,5.5 L16.2,3.8 C16.2,2.1 17.4,1.2 19.4,1.2 C21.4,1.2 22.7,2.5 22.7,4.5 L22.7,8.2 L27.2,8.2 C28.4,8.2 29.1,9 29.1,10.3 L29.1,23.3 C29.1,24.5 28.3,25.2 27.2,25.2 Z" fill="#fbc98c"/><path d="M22.7,13 H29 M22.7,17 H29 M22.7,21 H29" stroke="#f2b676" stroke-width="0.7" fill="none"/></svg>
<div class="t dash" style="left:529px;width:108px;top:450.2px">---</div>
<svg class="a" style="left:677.0px;top:453.9px" width="30" height="26" viewBox="0 0 30 26"><g transform="translate(0,25.4) scale(1,-1)"><rect x="0.3" y="8.2" width="9" height="17" rx="1.4" fill="#d8434e"/><rect x="2" y="18" width="2" height="5.5" rx="1" fill="#e8606b"/><path d="M10.6,25.2 L10.6,10.5 C13,9.5 15.8,8 16.2,5.5 L16.2,3.8 C16.2,2.1 17.4,1.2 19.4,1.2 C21.4,1.2 22.7,2.5 22.7,4.5 L22.7,8.2 L27.2,8.2 C28.4,8.2 29.1,9 29.1,10.3 L29.1,23.3 C29.1,24.5 28.3,25.2 27.2,25.2 Z" fill="#fbc98c"/><path d="M22.7,13 H29 M22.7,17 H29 M22.7,21 H29" stroke="#f2b676" stroke-width="0.7" fill="none"/></g></svg>
<svg class="a" style="left:785.5px;top:454.4px" width="30" height="26" viewBox="0 0 30 26"><rect x="0.3" y="8.2" width="9" height="17" rx="1.4" fill="#3a8dd6"/><rect x="2" y="18" width="2" height="5.5" rx="1" fill="#5aa6ea"/><path d="M10.6,25.2 L10.6,10.5 C13,9.5 15.8,8 16.2,5.5 L16.2,3.8 C16.2,2.1 17.4,1.2 19.4,1.2 C21.4,1.2 22.7,2.5 22.7,4.5 L22.7,8.2 L27.2,8.2 C28.4,8.2 29.1,9 29.1,10.3 L29.1,23.3 C29.1,24.5 28.3,25.2 27.2,25.2 Z" fill="#fbc98c"/><path d="M22.7,13 H29 M22.7,17 H29 M22.7,21 H29" stroke="#f2b676" stroke-width="0.7" fill="none"/></svg>
<svg class="a" style="left:892.5px;top:453.9px" width="30" height="26" viewBox="0 0 30 26"><g transform="translate(0,25.4) scale(1,-1)"><rect x="0.3" y="8.2" width="9" height="17" rx="1.4" fill="#d8434e"/><rect x="2" y="18" width="2" height="5.5" rx="1" fill="#e8606b"/><path d="M10.6,25.2 L10.6,10.5 C13,9.5 15.8,8 16.2,5.5 L16.2,3.8 C16.2,2.1 17.4,1.2 19.4,1.2 C21.4,1.2 22.7,2.5 22.7,4.5 L22.7,8.2 L27.2,8.2 C28.4,8.2 29.1,9 29.1,10.3 L29.1,23.3 C29.1,24.5 28.3,25.2 27.2,25.2 Z" fill="#fbc98c"/><path d="M22.7,13 H29 M22.7,17 H29 M22.7,21 H29" stroke="#f2b676" stroke-width="0.7" fill="none"/></g></svg>
<svg class="a" style="left:134.5px;top:503.9px" width="30" height="26" viewBox="0 0 30 26"><g transform="translate(0,25.4) scale(1,-1)"><rect x="0.3" y="8.2" width="9" height="17" rx="1.4" fill="#d8434e"/><rect x="2" y="18" width="2" height="5.5" rx="1" fill="#e8606b"/><path d="M10.6,25.2 L10.6,10.5 C13,9.5 15.8,8 16.2,5.5 L16.2,3.8 C16.2,2.1 17.4,1.2 19.4,1.2 C21.4,1.2 22.7,2.5 22.7,4.5 L22.7,8.2 L27.2,8.2 C28.4,8.2 29.1,9 29.1,10.3 L29.1,23.3 C29.1,24.5 28.3,25.2 27.2,25.2 Z" fill="#fbc98c"/><path d="M22.7,13 H29 M22.7,17 H29 M22.7,21 H29" stroke="#f2b676" stroke-width="0.7" fill="none"/></g></svg>
<svg class="a" style="left:243.0px;top:503.9px" width="30" height="26" viewBox="0 0 30 26"><g transform="translate(0,25.4) scale(1,-1)"><rect x="0.3" y="8.2" width="9" height="17" rx="1.4" fill="#d8434e"/><rect x="2" y="18" width="2" height="5.5" rx="1" fill="#e8606b"/><path d="M10.6,25.2 L10.6,10.5 C13,9.5 15.8,8 16.2,5.5 L16.2,3.8 C16.2,2.1 17.4,1.2 19.4,1.2 C21.4,1.2 22.7,2.5 22.7,4.5 L22.7,8.2 L27.2,8.2 C28.4,8.2 29.1,9 29.1,10.3 L29.1,23.3 C29.1,24.5 28.3,25.2 27.2,25.2 Z" fill="#fbc98c"/><path d="M22.7,13 H29 M22.7,17 H29 M22.7,21 H29" stroke="#f2b676" stroke-width="0.7" fill="none"/></g></svg>
<svg class="a" style="left:351.5px;top:503.9px" width="30" height="26" viewBox="0 0 30 26"><g transform="translate(0,25.4) scale(1,-1)"><rect x="0.3" y="8.2" width="9" height="17" rx="1.4" fill="#d8434e"/><rect x="2" y="18" width="2" height="5.5" rx="1" fill="#e8606b"/><path d="M10.6,25.2 L10.6,10.5 C13,9.5 15.8,8 16.2,5.5 L16.2,3.8 C16.2,2.1 17.4,1.2 19.4,1.2 C21.4,1.2 22.7,2.5 22.7,4.5 L22.7,8.2 L27.2,8.2 C28.4,8.2 29.1,9 29.1,10.3 L29.1,23.3 C29.1,24.5 28.3,25.2 27.2,25.2 Z" fill="#fbc98c"/><path d="M22.7,13 H29 M22.7,17 H29 M22.7,21 H29" stroke="#f2b676" stroke-width="0.7" fill="none"/></g></svg>
<svg class="a" style="left:460.0px;top:504.4px" width="30" height="26" viewBox="0 0 30 26"><rect x="0.3" y="8.2" width="9" height="17" rx="1.4" fill="#3a8dd6"/><rect x="2" y="18" width="2" height="5.5" rx="1" fill="#5aa6ea"/><path d="M10.6,25.2 L10.6,10.5 C13,9.5 15.8,8 16.2,5.5 L16.2,3.8 C16.2,2.1 17.4,1.2 19.4,1.2 C21.4,1.2 22.7,2.5 22.7,4.5 L22.7,8.2 L27.2,8.2 C28.4,8.2 29.1,9 29.1,10.3 L29.1,23.3 C29.1,24.5 28.3,25.2 27.2,25.2 Z" fill="#fbc98c"/><path d="M22.7,13 H29 M22.7,17 H29 M22.7,21 H29" stroke="#f2b676" stroke-width="0.7" fill="none"/></svg>
<svg class="a" style="left:568.5px;top:503.9px" width="30" height="26" viewBox="0 0 30 26"><g transform="translate(0,25.4) scale(1,-1)"><rect x="0.3" y="8.2" width="9" height="17" rx="1.4" fill="#d8434e"/><rect x="2" y="18" width="2" height="5.5" rx="1" fill="#e8606b"/><path d="M10.6,25.2 L10.6,10.5 C13,9.5 15.8,8 16.2,5.5 L16.2,3.8 C16.2,2.1 17.4,1.2 19.4,1.2 C21.4,1.2 22.7,2.5 22.7,4.5 L22.7,8.2 L27.2,8.2 C28.4,8.2 29.1,9 29.1,10.3 L29.1,23.3 C29.1,24.5 28.3,25.2 27.2,25.2 Z" fill="#fbc98c"/><path d="M22.7,13 H29 M22.7,17 H29 M22.7,21 H29" stroke="#f2b676" stroke-width="0.7" fill="none"/></g></svg>
<svg class="a" style="left:677.0px;top:504.4px" width="30" height="26" viewBox="0 0 30 26"><rect x="0.3" y="8.2" width="9" height="17" rx="1.4" fill="#3a8dd6"/><rect x="2" y="18" width="2" height="5.5" rx="1" fill="#5aa6ea"/><path d="M10.6,25.2 L10.6,10.5 C13,9.5 15.8,8 16.2,5.5 L16.2,3.8 C16.2,2.1 17.4,1.2 19.4,1.2 C21.4,1.2 22.7,2.5 22.7,4.5 L22.7,8.2 L27.2,8.2 C28.4,8.2 29.1,9 29.1,10.3 L29.1,23.3 C29.1,24.5 28.3,25.2 27.2,25.2 Z" fill="#fbc98c"/><path d="M22.7,13 H29 M22.7,17 H29 M22.7,21 H29" stroke="#f2b676" stroke-width="0.7" fill="none"/></svg>
<svg class="a" style="left:785.5px;top:503.9px" width="30" height="26" viewBox="0 0 30 26"><g transform="translate(0,25.4) scale(1,-1)"><rect x="0.3" y="8.2" width="9" height="17" rx="1.4" fill="#d8434e"/><rect x="2" y="18" width="2" height="5.5" rx="1" fill="#e8606b"/><path d="M10.6,25.2 L10.6,10.5 C13,9.5 15.8,8 16.2,5.5 L16.2,3.8 C16.2,2.1 17.4,1.2 19.4,1.2 C21.4,1.2 22.7,2.5 22.7,4.5 L22.7,8.2 L27.2,8.2 C28.4,8.2 29.1,9 29.1,10.3 L29.1,23.3 C29.1,24.5 28.3,25.2 27.2,25.2 Z" fill="#fbc98c"/><path d="M22.7,13 H29 M22.7,17 H29 M22.7,21 H29" stroke="#f2b676" stroke-width="0.7" fill="none"/></g></svg>
<svg class="a" style="left:892.5px;top:504.4px" width="30" height="26" viewBox="0 0 30 26"><rect x="0.3" y="8.2" width="9" height="17" rx="1.4" fill="#3a8dd6"/><rect x="2" y="18" width="2" height="5.5" rx="1" fill="#5aa6ea"/><path d="M10.6,25.2 L10.6,10.5 C13,9.5 15.8,8 16.2,5.5 L16.2,3.8 C16.2,2.1 17.4,1.2 19.4,1.2 C21.4,1.2 22.7,2.5 22.7,4.5 L22.7,8.2 L27.2,8.2 C28.4,8.2 29.1,9 29.1,10.3 L29.1,23.3 C29.1,24.5 28.3,25.2 27.2,25.2 Z" fill="#fbc98c"/><path d="M22.7,13 H29 M22.7,17 H29 M22.7,21 H29" stroke="#f2b676" stroke-width="0.7" fill="none"/></svg>
<div class="a" style="left:95px;width:108px;top:571.8px;height:60px;overflow:hidden"><div class="bx" style="margin-left:9.0px"><div class="bl">Democracia en</div><div class="bl">crisis</div></div></div>
<div class="a" style="left:203px;width:109px;top:571.8px;height:60px;overflow:hidden"><div class="bx" style="margin-left:9.5px"><div class="bl">No es</div><div class="bl">dictadura</div></div></div>
<div class="a" style="left:312px;width:108px;top:571.8px;height:60px;overflow:hidden"><div class="bx" style="margin-left:9.0px"><div class="bl">Democracia en</div><div class="bl">crisis</div></div></div>
<div class="a" style="left:420px;width:109px;top:571.8px;height:60px;overflow:hidden"><div class="bx" style="margin-left:9.5px"><div class="bl">Dictadura</div></div></div>
<div class="a" style="left:529px;width:108px;top:571.8px;height:60px;overflow:hidden"><div class="bx" style="margin-left:9.0px"><div class="bl">No es dictadura</div></div></div>
<div class="a" style="left:637px;width:109px;top:571.8px;height:60px;overflow:hidden"><div class="bx" style="margin-left:9.5px"><div class="bl">Dictadura</div></div></div>
<div class="a" style="left:746px;width:108px;top:571.8px;height:60px;overflow:hidden"><div class="bx" style="margin-left:9.0px"><div class="bl">Democracia</div><div class="bl">en crisis</div></div></div>
<div class="a" style="left:854px;width:106px;top:571.8px;height:60px;overflow:hidden"><div class="bx" style="margin-left:8.0px"><div class="bl">Dictadura</div></div></div>
<svg class="a" style="left:134.5px;top:622.4px" width="30" height="26" viewBox="0 0 30 26"><rect x="0.3" y="8.2" width="9" height="17" rx="1.4" fill="#3a8dd6"/><rect x="2" y="18" width="2" height="5.5" rx="1" fill="#5aa6ea"/><path d="M10.6,25.2 L10.6,10.5 C13,9.5 15.8,8 16.2,5.5 L16.2,3.8 C16.2,2.1 17.4,1.2 19.4,1.2 C21.4,1.2 22.7,2.5 22.7,4.5 L22.7,8.2 L27.2,8.2 C28.4,8.2 29.1,9 29.1,10.3 L29.1,23.3 C29.1,24.5 28.3,25.2 27.2,25.2 Z" fill="#fbc98c"/><path d="M22.7,13 H29 M22.7,17 H29 M22.7,21 H29" stroke="#f2b676" stroke-width="0.7" fill="none"/></svg>
<svg class="a" style="left:243.0px;top:622.4px" width="30" height="26" viewBox="0 0 30 26"><rect x="0.3" y="8.2" width="9" height="17" rx="1.4" fill="#3a8dd6"/><rect x="2" y="18" width="2" height="5.5" rx="1" fill="#5aa6ea"/><path d="M10.6,25.2 L10.6,10.5 C13,9.5 15.8,8 16.2,5.5 L16.2,3.8 C16.2,2.1 17.4,1.2 19.4,1.2 C21.4,1.2 22.7,2.5 22.7,4.5 L22.7,8.2 L27.2,8.2 C28.4,8.2 29.1,9 29.1,10.3 L29.1,23.3 C29.1,24.5 28.3,25.2 27.2,25.2 Z" fill="#fbc98c"/><path d="M22.7,13 H29 M22.7,17 H29 M22.7,21 H29" stroke="#f2b676" stroke-width="0.7" fill="none"/></svg>
<svg class="a" style="left:351.5px;top:622.4px" width="30" height="26" viewBox="0 0 30 26"><rect x="0.3" y="8.2" width="9" height="17" rx="1.4" fill="#3a8dd6"/><rect x="2" y="18" width="2" height="5.5" rx="1" fill="#5aa6ea"/><path d="M10.6,25.2 L10.6,10.5 C13,9.5 15.8,8 16.2,5.5 L16.2,3.8 C16.2,2.1 17.4,1.2 19.4,1.2 C21.4,1.2 22.7,2.5 22.7,4.5 L22.7,8.2 L27.2,8.2 C28.4,8.2 29.1,9 29.1,10.3 L29.1,23.3 C29.1,24.5 28.3,25.2 27.2,25.2 Z" fill="#fbc98c"/><path d="M22.7,13 H29 M22.7,17 H29 M22.7,21 H29" stroke="#f2b676" stroke-width="0.7" fill="none"/></svg>
<div class="t dash" style="left:420px;width:109px;top:618.2px">---</div>
<div class="t dash" style="left:529px;width:108px;top:618.2px">---</div>
<svg class="a" style="left:677.0px;top:621.9px" width="30" height="26" viewBox="0 0 30 26"><g transform="translate(0,25.4) scale(1,-1)"><rect x="0.3" y="8.2" width="9" height="17" rx="1.4" fill="#d8434e"/><rect x="2" y="18" width="2" height="5.5" rx="1" fill="#e8606b"/><path d="M10.6,25.2 L10.6,10.5 C13,9.5 15.8,8 16.2,5.5 L16.2,3.8 C16.2,2.1 17.4,1.2 19.4,1.2 C21.4,1.2 22.7,2.5 22.7,4.5 L22.7,8.2 L27.2,8.2 C28.4,8.2 29.1,9 29.1,10.3 L29.1,23.3 C29.1,24.5 28.3,25.2 27.2,25.2 Z" fill="#fbc98c"/><path d="M22.7,13 H29 M22.7,17 H29 M22.7,21 H29" stroke="#f2b676" stroke-width="0.7" fill="none"/></g></svg>
<svg class="a" style="left:785.5px;top:622.4px" width="30" height="26" viewBox="0 0 30 26"><rect x="0.3" y="8.2" width="9" height="17" rx="1.4" fill="#3a8dd6"/><rect x="2" y="18" width="2" height="5.5" rx="1" fill="#5aa6ea"/><path d="M10.6,25.2 L10.6,10.5 C13,9.5 15.8,8 16.2,5.5 L16.2,3.8 C16.2,2.1 17.4,1.2 19.4,1.2 C21.4,1.2 22.7,2.5 22.7,4.5 L22.7,8.2 L27.2,8.2 C28.4,8.2 29.1,9 29.1,10.3 L29.1,23.3 C29.1,24.5 28.3,25.2 27.2,25.2 Z" fill="#fbc98c"/><path d="M22.7,13 H29 M22.7,17 H29 M22.7,21 H29" stroke="#f2b676" stroke-width="0.7" fill="none"/></svg>
<svg class="a" style="left:892.5px;top:621.9px" width="30" height="26" viewBox="0 0 30 26"><g transform="translate(0,25.4) scale(1,-1)"><rect x="0.3" y="8.2" width="9" height="17" rx="1.4" fill="#d8434e"/><rect x="2" y="18" width="2" height="5.5" rx="1" fill="#e8606b"/><path d="M10.6,25.2 L10.6,10.5 C13,9.5 15.8,8 16.2,5.5 L16.2,3.8 C16.2,2.1 17.4,1.2 19.4,1.2 C21.4,1.2 22.7,2.5 22.7,4.5 L22.7,8.2 L27.2,8.2 C28.4,8.2 29.1,9 29.1,10.3 L29.1,23.3 C29.1,24.5 28.3,25.2 27.2,25.2 Z" fill="#fbc98c"/><path d="M22.7,13 H29 M22.7,17 H29 M22.7,21 H29" stroke="#f2b676" stroke-width="0.7" fill="none"/></g></svg>
<div class="a" style="left:95px;width:108px;top:689.8px;height:60px;overflow:hidden"><div class="bx" style="margin-left:9.0px"><div class="bl">No, modificarlos</div><div class="bl">a favor de</div><div class="bl">las regiones</div></div></div>
<div class="a" style="left:203px;width:109px;top:689.8px;height:60px;overflow:hidden"><div class="bx" style="margin-left:9.5px"><div class="bl">Sí,</div><div class="bl">especialmente</div><div class="bl">al royalty minero</div></div></div>
<div class="a" style="left:312px;width:108px;top:689.8px;height:60px;overflow:hidden"><div class="bx" style="margin-left:9.0px"><div class="bl">Sí, empresas</div><div class="bl">que explotan</div><div class="bl">recursos</div><div class="bl">naturales</div></div></div>
<div class="t dash" style="left:420px;width:109px;top:687.2px">---</div>
<div class="t dash" style="left:529px;width:108px;top:687.2px">---</div>
<div class="a" style="left:637px;width:109px;top:689.8px;height:60px;overflow:hidden"><div class="bx" style="margin-left:9.5px"><div class="bl">No, disminuirlos</div></div></div>
<div class="a" style="left:746px;width:108px;top:689.8px;height:60px;overflow:hidden"><div class="bx" style="margin-left:9.0px"><div class="bl">Sí, a la</div><div class="bl">gran empresa</div></div></div>
<div class="a" style="left:854px;width:106px;top:689.8px;height:60px;overflow:hidden"><div class="bx" style="margin-left:8.0px"><div class="bl">No, disminuirlos</div></div></div>
<div class="t fn" style="left:87px;width:120px;top:59.4px">Alejandro</div>
<div class="t ln" style="left:89px;width:120px;top:77.9px">Guillier</div>
<div class="t fn" style="left:195px;width:121px;top:59.4px">Alejandro</div>
<div class="t ln" style="left:197px;width:121px;top:77.9px">Navarro</div>
<div class="t fn" style="left:304px;width:120px;top:59.4px">Beatriz</div>
<div class="t ln" style="left:306px;width:120px;top:77.9px">Sánchez</div>
<div class="t fn" style="left:412px;width:121px;top:59.4px">Carolina</div>
<div class="t ln" style="left:414px;width:121px;top:77.9px">Goic</div>
<div class="t fn" style="left:521px;width:120px;top:59.4px">Eduardo</div>
<div class="t ln" style="left:523px;width:120px;top:77.9px">Artés</div>
<div class="t fn" style="left:629px;width:121px;top:59.4px">José Antonio</div>
<div class="t ln" style="left:631px;width:121px;top:77.9px">Kast</div>
<div class="t fn" style="left:738px;width:120px;top:59.4px">Marco</div>
<div class="t ln" style="left:740px;width:120px;top:77.9px">Enríquez-</div>
<div class="t ln" style="left:740px;width:120px;top:97.4px">Ominami</div>
<div class="t fn" style="left:846px;width:118px;top:59.4px">Sebastián</div>
<div class="t ln" style="left:848px;width:118px;top:77.9px">Piñera</div>
<div class="t" style="left:2px;width:95px;top:98.5px;font-size:13px;font-weight:bold;color:#353a46;transform:scaleX(0.85)">TEMAS</div>
<svg class="a" style="left:124.0px;top:9.3px" width="50" height="50" viewBox="0 0 50 50"><defs><clipPath id="pc0"><circle cx="25" cy="25" r="23.8"/></clipPath><filter id="bl0" x="-10%" y="-10%" width="120%" height="120%"><feGaussianBlur stdDeviation="0.7"/></filter></defs><g clip-path="url(#pc0)"><g filter="url(#bl0)"><rect width="50" height="50" fill="#6a7272"/><rect width="14" height="50" fill="#4f5757"/><rect x="36" width="14" height="50" fill="#747c7c"/><ellipse cx="22" cy="12" rx="13" ry="9" fill="#5d6565"/><ellipse cx="22" cy="25" rx="11" ry="15" fill="#a9b0ae"/><path d="M13,20 Q17,18 20,20 M24,20 Q27,18 31,20" stroke="#5e6564" stroke-width="1.5" fill="none"/><path d="M15,29 Q22,26 29,29 Q22,33 15,29 Z" fill="#596060"/><ellipse cx="22" cy="35" rx="5" ry="2" fill="#c3c9c8"/><path d="M0,50 L2,44 Q12,39 22,41 Q34,38 44,42 L50,50 Z" fill="#2e3434"/><path d="M17,40 L22,50 L28,40 Z" fill="#c6cdcb"/><path d="M21,42 L23,42 L23.8,50 L20.2,50 Z" fill="#3c4242"/></g></g><circle cx="25" cy="25" r="24.3" fill="none" stroke="rgba(255,255,255,0.45)" stroke-width="1"/></svg>
<svg class="a" style="left:232.5px;top:9.3px" width="50" height="50" viewBox="0 0 50 50"><defs><clipPath id="pc1"><circle cx="25" cy="25" r="23.8"/></clipPath><filter id="bl1" x="-10%" y="-10%" width="120%" height="120%"><feGaussianBlur stdDeviation="0.7"/></filter></defs><g clip-path="url(#pc1)"><g filter="url(#bl1)"><rect width="50" height="50" fill="#373f47"/><ellipse cx="25" cy="13" rx="14" ry="10" fill="#a3a9ae"/><ellipse cx="25" cy="25" rx="11" ry="14.5" fill="#9ca3a6"/><path d="M17,22 Q20.5,20.5 23,22 M27,22 Q30,20.5 33,22" stroke="#596065" stroke-width="1.5" fill="none"/><ellipse cx="25" cy="32" rx="5" ry="1.8" fill="#62696d"/><path d="M0,50 L4,43 Q14,39 25,41 Q36,39 46,43 L50,50 Z" fill="#262c34"/><path d="M17,40 L25,50 L33,40 Z" fill="#dce0e3"/></g></g><circle cx="25" cy="25" r="24.3" fill="none" stroke="rgba(255,255,255,0.45)" stroke-width="1"/></svg>
<svg class="a" style="left:341.0px;top:9.3px" width="50" height="50" viewBox="0 0 50 50"><defs><clipPath id="pc2"><circle cx="25" cy="25" r="23.8"/></clipPath><filter id="bl2" x="-10%" y="-10%" width="120%" height="120%"><feGaussianBlur stdDeviation="0.7"/></filter></defs><g clip-path="url(#pc2)"><g filter="url(#bl2)"><rect width="50" height="50" fill="#323a3e"/><ellipse cx="27" cy="25.5" rx="11" ry="14" fill="#acb2af"/><path d="M19,22 Q22,20.5 25,22 M29,22 Q32,20.5 35,22" stroke="#5b6261" stroke-width="1.4" fill="none"/><path d="M22,32 Q27,35 32,32 Q27,37 22,32 Z" fill="#6a706f"/><path d="M0,0 H50 V14 Q40,6 28,9 Q17,13 15,25 Q12,36 4,42 L0,42 Z" fill="#2a3235"/><path d="M40,10 Q44,24 42,40 L50,44 V8 Z" fill="#2a3235"/><path d="M8,50 Q12,41 20,40 L30,41 Q38,43 42,50 Z" fill="#979d9f"/></g></g><circle cx="25" cy="25" r="24.3" fill="none" stroke="rgba(255,255,255,0.45)" stroke-width="1"/></svg>
<svg class="a" style="left:449.5px;top:9.3px" width="50" height="50" viewBox="0 0 50 50"><defs><clipPath id="pc3"><circle cx="25" cy="25" r="23.8"/></clipPath><filter id="bl3" x="-10%" y="-10%" width="120%" height="120%"><feGaussianBlur stdDeviation="0.7"/></filter></defs><g clip-path="url(#pc3)"><g filter="url(#bl3)"><rect width="50" height="50" fill="#29333a"/><path d="M10,50 Q7,28 13,16 Q19,5 28,6 Q40,8 41,24 Q42,40 40,50 Z" fill="#909b99"/><ellipse cx="26" cy="25" rx="9.5" ry="13.5" fill="#bcc1bf"/><path d="M19,21 Q22,19.5 24.5,21 M28,21 Q31,19.5 33,21" stroke="#5f6665" stroke-width="1.4" fill="none"/><ellipse cx="26" cy="31.5" rx="4" ry="1.6" fill="#858b8a"/><path d="M12,50 Q16,40 26,40 Q36,40 40,50 Z" fill="#abb1b0"/></g></g><circle cx="25" cy="25" r="24.3" fill="none" stroke="rgba(255,255,255,0.45)" stroke-width="1"/></svg>
<svg class="a" style="left:558.0px;top:9.3px" width="50" height="50" viewBox="0 0 50 50"><defs><clipPath id="pc4"><circle cx="25" cy="25" r="23.8"/></clipPath><filter id="bl4" x="-10%" y="-10%" width="120%" height="120%"><feGaussianBlur stdDeviation="0.7"/></filter></defs><g clip-path="url(#pc4)"><g filter="url(#bl4)"><rect width="50" height="50" fill="#767d80"/><rect width="13" height="50" fill="#6a7174"/><rect x="38" width="12" height="50" fill="#80878a"/><ellipse cx="26" cy="15" rx="12" ry="10" fill="#5f666a"/><ellipse cx="26" cy="24" rx="10.5" ry="14" fill="#939a9d"/><path d="M18,20.5 Q21.5,19 24.5,20.5 M28,20.5 Q31,19 34,20.5" stroke="#464c50" stroke-width="1.5" fill="none"/><path d="M16,26 Q26,42 36,26 L36,34 Q26,46 16,34 Z" fill="#4f565a"/><path d="M0,50 L4,43 Q14,40 26,42 Q38,40 46,43 L50,50 Z" fill="#3a4145"/></g></g><circle cx="25" cy="25" r="24.3" fill="none" stroke="rgba(255,255,255,0.45)" stroke-width="1"/></svg>
<svg class="a" style="left:666.5px;top:9.3px" width="50" height="50" viewBox="0 0 50 50"><defs><clipPath id="pc5"><circle cx="25" cy="25" r="23.8"/></clipPath><filter id="bl5" x="-10%" y="-10%" width="120%" height="120%"><feGaussianBlur stdDeviation="0.7"/></filter></defs><g clip-path="url(#pc5)"><g filter="url(#bl5)"><rect width="50" height="50" fill="#c6c8cf"/><ellipse cx="25" cy="15" rx="12.5" ry="10" fill="#3d4647"/><ellipse cx="25" cy="25" rx="10.5" ry="14" fill="#78827f"/><path d="M17,22 Q20.5,20.5 23.5,22 M27,22 Q30,20.5 33,22" stroke="#424b4c" stroke-width="1.5" fill="none"/><ellipse cx="25" cy="32" rx="4.5" ry="1.6" fill="#505a59"/><path d="M0,50 L4,43 Q14,39 25,41 Q36,39 46,43 L50,50 Z" fill="#2e3637"/><path d="M19,40 L25,48 L31,40 Z" fill="#bcc2c3"/></g></g><circle cx="25" cy="25" r="24.3" fill="none" stroke="rgba(255,255,255,0.45)" stroke-width="1"/></svg>
<svg class="a" style="left:775.0px;top:9.3px" width="50" height="50" viewBox="0 0 50 50"><defs><clipPath id="pc6"><circle cx="25" cy="25" r="23.8"/></clipPath><filter id="bl6" x="-10%" y="-10%" width="120%" height="120%"><feGaussianBlur stdDeviation="0.7"/></filter></defs><g clip-path="url(#pc6)"><g filter="url(#bl6)"><rect width="50" height="50" fill="#aab0ba"/><rect width="13" height="50" fill="#c6c4c9"/><path d="M10,24 Q8,4 26,3 Q43,3 41,24 L38,24 Q37,13 26,13 Q15,13 13,24 Z" fill="#7b848c"/><ellipse cx="26" cy="26" rx="10.5" ry="14" fill="#8b9499"/><path d="M18,22 Q21.5,20.5 24.5,22 M28,22 Q31,20.5 34,22" stroke="#4c545a" stroke-width="1.5" fill="none"/><ellipse cx="26" cy="32" rx="4.5" ry="1.6" fill="#5b646a"/><path d="M0,50 L4,42 Q14,38 26,40 Q38,38 46,42 L50,50 Z" fill="#2d363d"/><path d="M20,39 L26,47 L32,39 Z" fill="#c2c8cc"/></g></g><circle cx="25" cy="25" r="24.3" fill="none" stroke="rgba(255,255,255,0.45)" stroke-width="1"/></svg>
<svg class="a" style="left:882.0px;top:9.3px" width="50" height="50" viewBox="0 0 50 50"><defs><clipPath id="pc7"><circle cx="25" cy="25" r="23.8"/></clipPath><filter id="bl7" x="-10%" y="-10%" width="120%" height="120%"><feGaussianBlur stdDeviation="0.7"/></filter></defs><g clip-path="url(#pc7)"><g filter="url(#bl7)"><rect width="50" height="50" fill="#3f484f"/><ellipse cx="25" cy="15" rx="13" ry="10" fill="#8f969b"/><ellipse cx="25" cy="26.5" rx="10.5" ry="14" fill="#899095"/><path d="M17,23 Q20.5,21.5 23.5,23 M27,23 Q30,21.5 33,23" stroke="#4c5358" stroke-width="1.5" fill="none"/><ellipse cx="25" cy="33" rx="4.5" ry="1.6" fill="#9a8e98"/><path d="M0,50 L4,43 Q14,39 25,41 Q36,39 46,43 L50,50 Z" fill="#2b3237"/><path d="M20,40 L25,48 L30,40 Z" fill="#c0c6ca"/></g></g><circle cx="25" cy="25" r="24.3" fill="none" stroke="rgba(255,255,255,0.45)" stroke-width="1"/></svg>
<svg class="a" style="left:0;top:0" width="95" height="95" viewBox="0 0 95 95"><rect x="17.3" y="12.6" width="63.1" height="74.6" fill="#3b4163"/><rect x="21.6" y="16.6" width="54.8" height="66.4" fill="#f7f0e4"/><rect x="23" y="18" width="52" height="63.5" fill="#f1e7d5"/><rect x="33.7" y="12.8" width="30.5" height="7.4" fill="#6a83c6"/><rect x="42.9" y="9.9" width="11.2" height="5.5" fill="#2a2f45"/><path d="M30,31.2 H43.5 M29.5,41.5 H38 M40.5,41.5 H43 M45,41.5 H53 M55.5,41.5 H60 M63,41.5 H66 M29.5,51.9 H32 M34,51.9 H47.8" stroke="#c4bba6" stroke-width="1.2" fill="none"/><path d="M27.5,67.5 L31.5,72.5 L36,64" stroke="#5166a8" stroke-width="2.2" fill="none" stroke-linecap="round" stroke-linejoin="round"/><path d="M37,69.5 Q39.5,66.5 41.5,69.5 Q43.5,72 46,68.5" stroke="#5166a8" stroke-width="2.1" fill="none" stroke-linecap="round"/><path d="M80.6,59.8 L52.5,87.5" stroke="#dc4458" stroke-width="2" fill="none"/></svg>
</body></html>
